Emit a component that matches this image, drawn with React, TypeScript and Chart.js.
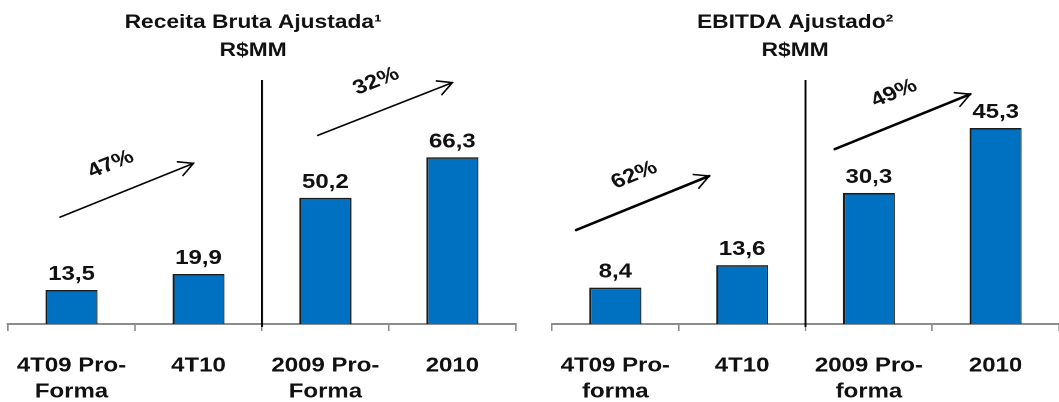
import React, { useEffect, useRef } from 'react';
import { Chart, registerables } from 'chart.js';

Chart.register(...registerables);

// Bitmap width of each panel and the CSS width it is shown at (text is drawn wide).
const BITMAP_W = 441;
const CSS_W = 529;
const SX = CSS_W / BITMAP_W;
const FONT = '"Liberation Sans", Arial, Helvetica, sans-serif';

// Receita Bruta Ajustada (R$MM)
const receitaTitulo = ['Receita Bruta Ajustada¹', 'R$MM'];
const receitaCategorias = [['4T09 Pro-', 'Forma'], '4T10', ['2009 Pro-', 'Forma'], '2010'];
const receitaValores = [13.5, 19.9, 50.2, 66.3];
const receitaCrescimento = ['47%', '32%'];

// EBITDA Ajustado (R$MM)
const ebitdaTitulo = ['EBITDA Ajustado²', 'R$MM'];
const ebitdaCategorias = [['4T09 Pro-', 'forma'], '4T10', ['2009 Pro-', 'forma'], '2010'];
const ebitdaValores = [8.4, 13.6, 30.3, 45.3];
const ebitdaCrescimento = ['62%', '49%'];

type Ponto = [number, number]; // [category index, value]
type Seta = { de: Ponto; ate: Ponto; espessura: number; rotuloEm: Ponto };

type Painel = {
  titulo: string[];
  tituloX: number;
  categorias: (string | string[])[];
  valores: number[];
  crescimento: string[];
  max: number;
  padLeft: number;
  padRight: number;
  setas: Seta[];
};

const painelReceita: Painel = {
  titulo: receitaTitulo,
  tituloX: 211,
  categorias: receitaCategorias,
  valores: receitaValores,
  crescimento: receitaCrescimento,
  max: 105,
  padLeft: 6.7,
  padRight: 11,
  setas: [
    { de: [-0.09, 42.5], ate: [0.96, 63.9], espessura: 1.6, rotuloEm: [0.31, 63.5] },
    { de: [1.94, 75], ate: [3.0, 96], espessura: 1.6, rotuloEm: [2.4, 96.5] },
  ],
};

const painelEbitda: Painel = {
  titulo: ebitdaTitulo,
  tituloX: 221,
  categorias: ebitdaCategorias,
  valores: ebitdaValores,
  crescimento: ebitdaCrescimento,
  max: 61,
  padLeft: 18.3,
  padRight: 0,
  setas: [
    { de: [-0.31, 21.7], ate: [0.74, 34.2], espessura: 2.6, rotuloEm: [0.15, 34.4] },
    { de: [1.73, 40.4], ate: [2.8, 53.1], espessura: 2.6, rotuloEm: [2.2, 53.3] },
  ],
};

const formatar = (v: number) => v.toFixed(1).replace('.', ',');

function anotacoes(p: Painel) {
  return {
    id: 'anotacoes',
    afterDraw(chart: any) {
      const { ctx, chartArea } = chart;
      const x = chart.scales.x;
      const y = chart.scales.y;
      ctx.save();

      // Title
      ctx.fillStyle = '#111';
      ctx.textAlign = 'center';
      ctx.textBaseline = 'alphabetic';
      ctx.font = `bold 19px ${FONT}`;
      p.titulo.forEach((t, i) => ctx.fillText(t, p.tituloX, 28 + i * 28));

      // Value labels above the bars
      ctx.font = `bold 20px ${FONT}`;
      const meta = chart.getDatasetMeta(0);
      meta.data.forEach((bar: any, i: number) => {
        ctx.fillText(formatar(p.valores[i]), bar.x, bar.y - 10);
      });

      // Divider between the quarterly and the annual comparison
      const xd = x.getPixelForValue(1.5);
      ctx.strokeStyle = '#000';
      ctx.lineWidth = 2 / SX;
      ctx.beginPath();
      ctx.moveTo(xd, 80);
      ctx.lineTo(xd, chartArea.bottom + 3);
      ctx.stroke();

      // Growth arrows and their percentages
      p.setas.forEach((s, i) => {
        const x1 = x.getPixelForValue(s.de[0]);
        const y1 = y.getPixelForValue(s.de[1]);
        const x2 = x.getPixelForValue(s.ate[0]);
        const y2 = y.getPixelForValue(s.ate[1]);

        ctx.save();
        ctx.scale(1 / SX, 1);
        const X1 = x1 * SX, X2 = x2 * SX;
        const ang = Math.atan2(y2 - y1, X2 - X1);
        ctx.strokeStyle = '#000';
        ctx.lineWidth = s.espessura;
        ctx.lineCap = 'round';
        ctx.beginPath();
        ctx.moveTo(X1, y1);
        ctx.lineTo(X2, y2);
        ctx.stroke();
        ctx.lineWidth = 1.6;
        const head = 16;
        const spread = 0.48;
        ctx.beginPath();
        ctx.moveTo(X2 - head * Math.cos(ang - spread), y2 - head * Math.sin(ang - spread));
        ctx.lineTo(X2, y2);
        ctx.lineTo(X2 - head * Math.cos(ang + spread), y2 - head * Math.sin(ang + spread));
        ctx.stroke();
        ctx.restore();

        const lx = x.getPixelForValue(s.rotuloEm[0]);
        const ly = y.getPixelForValue(s.rotuloEm[1]);
        ctx.save();
        ctx.translate(lx, ly);
        ctx.rotate(Math.atan2(y2 - y1, x2 - x1));
        ctx.font = `bold 20px ${FONT}`;
        ctx.textAlign = 'center';
        ctx.textBaseline = 'middle';
        ctx.fillStyle = '#111';
        ctx.fillText(p.crescimento[i], 0, 0);
        ctx.restore();
      });

      ctx.restore();
    },
  };
}

function PainelGrafico({ painel, left }: { painel: Painel; left: number }) {
  const ref = useRef<HTMLCanvasElement | null>(null);

  useEffect(() => {
    if (!ref.current) return;
    const chart = new Chart(ref.current, {
      type: 'bar',
      data: {
        labels: painel.categorias as any,
        datasets: [
          {
            data: painel.valores,
            backgroundColor: '#0070C0',
            borderColor: '#1c1c1c',
            borderWidth: { top: 1.6, left: 1.8, right: 1, bottom: 0 } as any,
            borderSkipped: 'bottom',
            categoryPercentage: 1,
            barPercentage: 0.41,
          },
        ],
      },
      options: {
        animation: false,
        responsive: false,
        devicePixelRatio: 2,
        layout: {
          padding: { top: 60, left: painel.padLeft, right: painel.padRight, bottom: 0 },
        },
        plugins: {
          legend: { display: false },
          tooltip: { enabled: false },
          title: { display: false },
        },
        scales: {
          x: {
            offset: true,
            grid: {
              offset: true,
              drawOnChartArea: false,
              drawTicks: true,
              tickLength: 7,
              color: '#8c8c8c',
              lineWidth: 1.5 / SX,
            },
            border: { display: true, color: '#8c8c8c', width: 2 },
            ticks: {
              color: '#111',
              font: { family: FONT, size: 20, weight: 'bold', lineHeight: 1.3 },
              padding: 22,
              maxRotation: 0,
              minRotation: 0,
              autoSkip: false,
            },
            afterFit: (s: any) => {
              // fixed axis band; the labels fit inside the categories
              s.height = 78;
              s.paddingLeft = 0;
              s.paddingRight = 0;
            },
          },
          y: { display: false, min: 0, max: painel.max },
        },
      },
      plugins: [anotacoes(painel)],
    });
    return () => chart.destroy();
  }, [painel]);

  return (
    <canvas
      ref={ref}
      width={BITMAP_W}
      height={402}
      style={{ position: 'absolute', left, top: 0, width: `${CSS_W}px`, height: '402px' }}
    />
  );
}

export default function App() {
  return (
    <div
      style={{
        position: 'fixed',
        left: 0,
        top: 0,
        width: 1059,
        height: 402,
        background: '#fff',
        overflow: 'hidden',
      }}
    >
      <PainelGrafico painel={painelReceita} left={0} />
      <PainelGrafico painel={painelEbitda} left={530} />
    </div>
  );
}
